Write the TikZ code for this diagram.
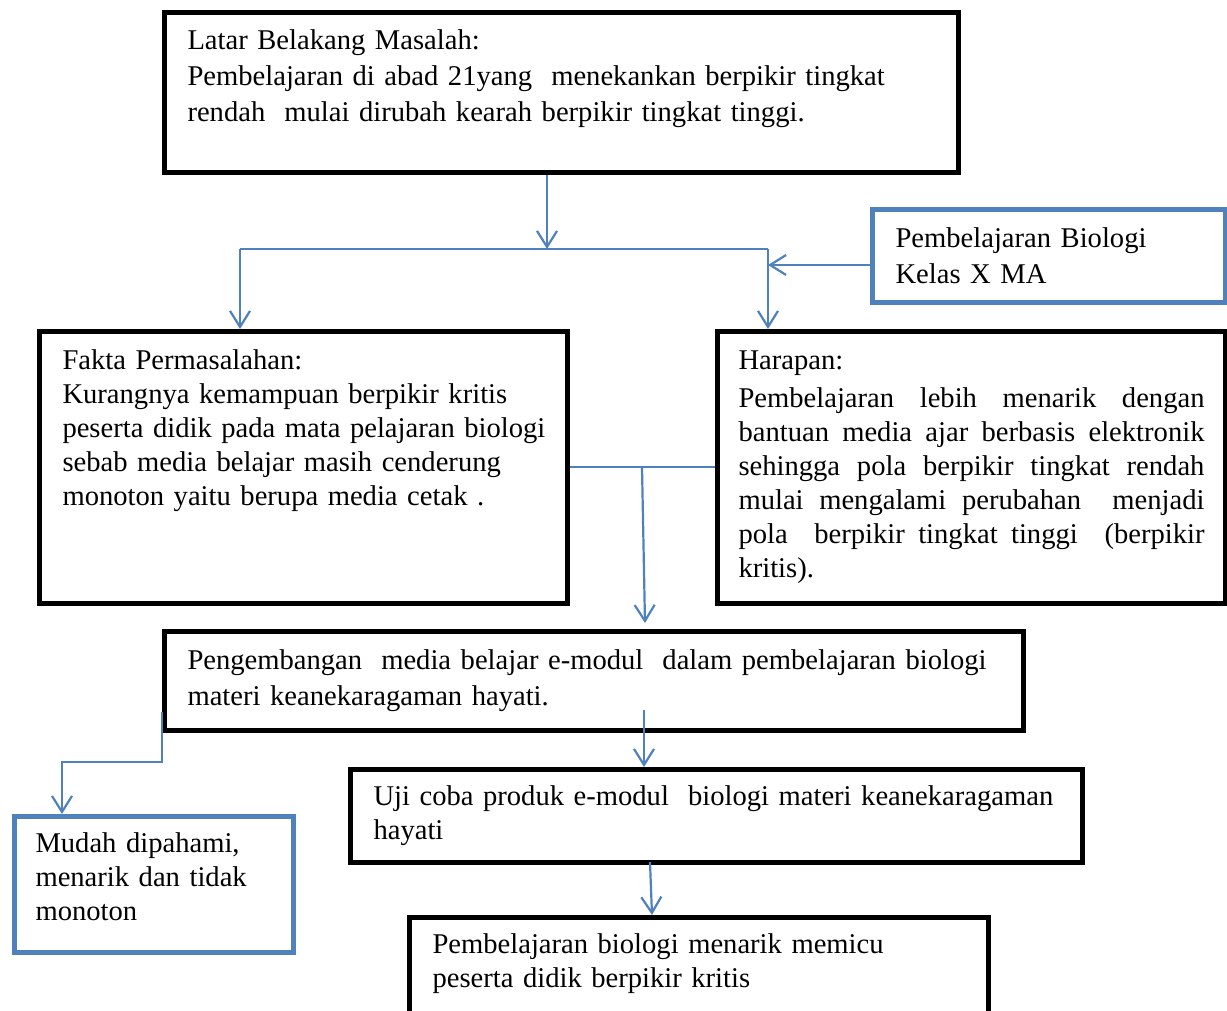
\documentclass[tikz,border=0pt]{standalone}
\usepackage{fontspec}
\setmainfont{Liberation Serif}
\usetikzlibrary{arrows.meta}
\definecolor{biru}{RGB}{79,129,189}

\tikzset{
  kotak/.style={draw=black, line width=2.5pt, anchor=north west, inner xsep=11.5pt,
    inner ysep=0pt, align=left, font=\fontsize{14.3pt}{17pt}\selectfont},
  kotakbiru/.style={kotak, draw=biru, line width=2.5pt},
  sambung/.style={draw=biru, line width=1.1pt},
  panah/.style={sambung, -{Straight Barb[length=8pt, width=10pt]}},
}

\begin{document}
\begin{tikzpicture}[x=.5pt, y=-.5pt]
  \useasboundingbox (0, 0) rectangle (1227, 1011);
  % --
  \node[kotak, minimum width=397pt, minimum height=80pt, text width=374pt] (latar) at (162, 10)
    {Latar Belakang Masalah:\\[1pt]
     Pembelajaran di abad 21yang\ \ menekankan berpikir tingkat\\[1pt]
     rendah\ \ mulai dirubah kearah berpikir tingkat tinggi.\\[0pt]\mbox{}};
  \node[kotakbiru, minimum width=176.5pt, minimum height=46.5pt, text width=153.5pt] (biologi) at (870, 207)
    {Pembelajaran Biologi\\[1pt] Kelas X MA};
  \node[kotak, minimum width=264pt, minimum height=136pt, text width=241pt] (fakta) at (37, 329)
    {Fakta Permasalahan:\\
     Kurangnya kemampuan berpikir kritis\\
     \mbox{peserta didik pada mata pelajaran biologi}\\
     sebab media belajar masih cenderung\\
     monoton yaitu berupa media cetak .\\[23pt]\mbox{}};
  \node[kotak, minimum width=254pt, minimum height=136pt, text width=233pt, inner xsep=10.5pt,
    align=justify] (harapan) at (715, 329)
    {Harapan:\\[2pt]
     Pembelajaran lebih menarik dengan\linebreak
     bantuan media ajar berbasis elektronik\linebreak
     sehingga pola berpikir tingkat rendah\linebreak
     mulai mengalami perubahan\ \ menjadi\linebreak
     pola\ \ berpikir tingkat tinggi\ \ (berpikir\linebreak
     kritis).};
  \node[kotak, minimum width=429.5pt, minimum height=49.5pt, text width=406.5pt] (pengembangan) at (162, 629)
    {Pengembangan\ \ media belajar e-modul\ \ dalam pembelajaran biologi\\[1pt]
     materi keanekaragaman hayati.};
  \node[kotakbiru, minimum width=139.5pt, minimum height=68pt, text width=118.5pt, inner xsep=10.5pt] (mudah) at (12, 814)
    {Mudah dipahami,\\ menarik dan tidak\\ monoton\\[-9pt]\mbox{}};
  \node[kotak, minimum width=366pt, minimum height=46.5pt, text width=343pt] (uji) at (348, 767)
    {Uji coba produk e-modul\ \ biologi materi keanekaragaman\\ hayati};
  \node[kotak, minimum width=289.5pt, minimum height=50pt, text width=266.5pt] (hasil) at (407, 915)
    {Pembelajaran biologi menarik memicu\\ peserta didik berpikir kritis\\[-10pt]\mbox{}};

  % -- connectors
  \coordinate (bagi) at (547, 249);
  \coordinate (kiri) at (240, 249);
  \coordinate (kanan) at (768, 249);
  \coordinate (masuk) at (768, 265);
  \coordinate (tengah) at (642, 467);
  \coordinate (turun) at (644, 710);
  \coordinate (sisi) at (162, 712);
  \coordinate (belok) at (62, 762);
  \coordinate (akhir) at (650, 862);

  \draw[panah] (latar.south -| bagi) -- (bagi);
  \draw[sambung] (kiri) -- (kanan);
  \draw[panah] (kiri) -- (kiri |- fakta.north);
  \draw[panah] (kanan) -- (kanan |- harapan.north);
  \draw[panah] (biologi.west |- masuk) -- (masuk);

  \draw[sambung] (fakta.east |- tengah) -- (harapan.west |- tengah);
  \draw[panah] (tengah) -- ([xshift=1.5pt, yshift=3pt]tengah |- pengembangan.north);

  \draw[panah] (turun) -- (turun |- uji.north);
  \draw[panah] (sisi) |- (belok) -- (belok |- mudah.north);
  \draw[panah] (akhir) -- ([xshift=1pt]akhir |- hasil.north);

\end{tikzpicture}
\end{document}
